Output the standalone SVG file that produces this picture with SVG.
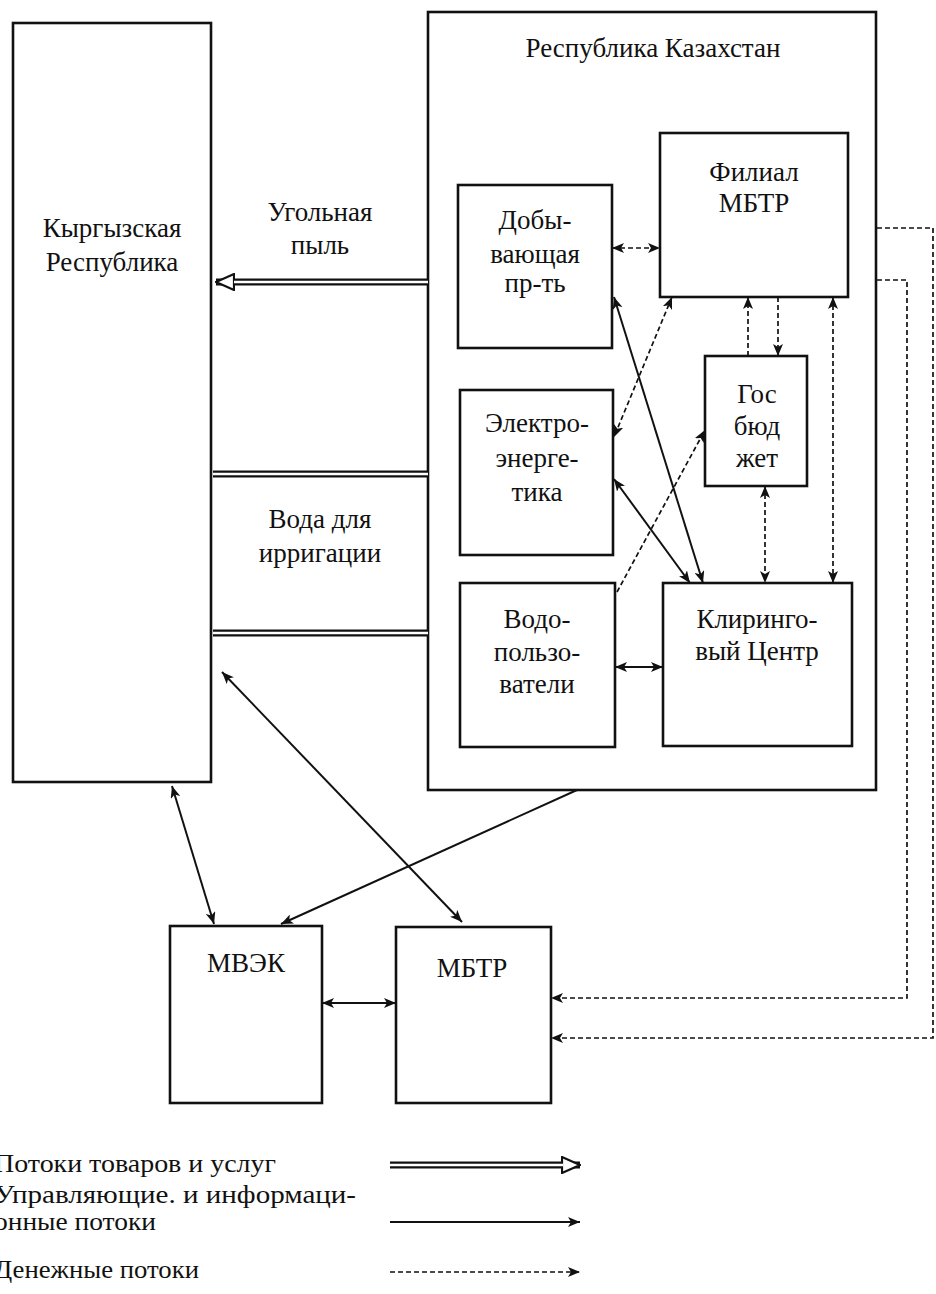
<svg xmlns="http://www.w3.org/2000/svg" width="936" height="1294" viewBox="0 0 936 1294">
<style>
.box{fill:none;stroke:#111;stroke-width:2.6}
.t{font-family:'Liberation Serif','DejaVu Serif','Times New Roman',serif;font-size:27px;fill:#111;text-anchor:middle}
.lt{font-family:'Liberation Serif','DejaVu Serif','Times New Roman',serif;font-size:26px;fill:#111}
.solid{stroke:#111;stroke-width:2;fill:none}
.dash{stroke:#111;stroke-width:1.7;fill:none;stroke-dasharray:5 3}
.gout{stroke:#111;stroke-width:7;fill:none}
.gin{stroke:#fff;stroke-width:2.4;fill:none}
</style>
<defs>
<marker id="ah" viewBox="0 0 12 10" refX="12" refY="5" markerWidth="12" markerHeight="10" markerUnits="userSpaceOnUse" orient="auto-start-reverse"><path d="M0,0 L12,5 L0,10 L3,5 Z" fill="#111"/></marker>
<marker id="gh" viewBox="0 0 20 18" refX="19" refY="9" markerWidth="20" markerHeight="18" markerUnits="userSpaceOnUse" orient="auto"><path d="M1,1 L19,9 L1,17 Z" fill="#fff" stroke="#111" stroke-width="2.2"/></marker>
</defs>
<rect width="936" height="1294" fill="#fff"/>

<g id="kyrgyz"><rect class="box" x="13" y="23" width="198" height="759"/>
<text class="t" x="112" y="237">Кыргызская</text><text class="t" x="112" y="271">Республика</text></g>

<g id="kazakhstan"><rect class="box" x="428" y="12" width="448" height="778"/>
<text class="t" x="653" y="57">Республика Казахстан</text></g>

<g id="filial"><rect class="box" x="660" y="133" width="188" height="164"/>
<text class="t" x="754" y="181">Филиал</text><text class="t" x="754" y="212">МБТР</text></g>

<g id="dobyv"><rect class="box" x="458" y="185" width="154" height="163"/>
<text class="t" x="535" y="229">Добы-</text><text class="t" x="535" y="263">вающая</text><text class="t" x="535" y="292">пр-ть</text></g>

<g id="electro"><rect class="box" x="460" y="390" width="153" height="165"/>
<text class="t" x="537" y="432">Электро-</text><text class="t" x="537" y="467">энерге-</text><text class="t" x="537" y="501">тика</text></g>

<g id="gosbudget"><rect class="box" x="705" y="356" width="102" height="130"/>
<text class="t" x="757" y="403">Гос</text><text class="t" x="757" y="435">бюд</text><text class="t" x="757" y="467">жет</text></g>

<g id="vodopolz"><rect class="box" x="460" y="583" width="155" height="164"/>
<text class="t" x="537" y="628">Водо-</text><text class="t" x="537" y="661">пользо-</text><text class="t" x="537" y="693">ватели</text></g>

<g id="kliring"><rect class="box" x="663" y="583" width="189" height="163"/>
<text class="t" x="757" y="628">Клиринго-</text><text class="t" x="757" y="660">вый Центр</text></g>

<g id="mvek"><rect class="box" x="170" y="926" width="152" height="177"/>
<text class="t" x="246" y="972">МВЭК</text></g>

<g id="mbtr"><rect class="box" x="396" y="927" width="155" height="176"/>
<text class="t" x="472" y="977">МБТР</text></g>

<g id="labels">
<text class="t" x="320" y="221">Угольная</text><text class="t" x="320" y="254">пыль</text>
<text class="t" x="320" y="528">Вода для</text><text class="t" x="320" y="562">ирригации</text>
</g>

<g id="connectors">
<path class="gout" d="M428,282 H216" marker-end="url(#gh)"/>
<path class="gin" d="M428,282 H234"/>
<path class="gout" d="M213,474 H428"/><path class="gin" d="M213,474 H428"/>
<path class="gout" d="M213,633 H428"/><path class="gin" d="M213,633 H428"/>

<path class="solid" d="M222,672 L462,922" marker-start="url(#ah)" marker-end="url(#ah)"/>
<path class="solid" d="M172,786 L214,924" marker-start="url(#ah)" marker-end="url(#ah)"/>
<path class="solid" d="M577,790 L281,924" marker-end="url(#ah)"/>
<path class="solid" d="M322,1003 H396" marker-start="url(#ah)" marker-end="url(#ah)"/>

<path class="dash" d="M877,228 H933 V1038 H551" marker-end="url(#ah)"/>
<path class="dash" d="M877,280 H907 V998 H551" marker-end="url(#ah)"/>

<path class="dash" d="M612,248 H660" marker-start="url(#ah)" marker-end="url(#ah)"/>
<path class="solid" d="M614,297 L703,583" marker-start="url(#ah)" marker-end="url(#ah)"/>
<path class="dash" d="M672,297 L614,437" marker-start="url(#ah)" marker-end="url(#ah)"/>
<path class="solid" d="M614,479 L690,583" marker-start="url(#ah)" marker-end="url(#ah)"/>
<path class="dash" d="M617,592 L705,430" marker-end="url(#ah)"/>
<path class="dash" d="M748,356 V297" marker-end="url(#ah)"/>
<path class="dash" d="M778,297 V356" marker-end="url(#ah)"/>
<path class="dash" d="M833,297 V583" marker-start="url(#ah)" marker-end="url(#ah)"/>
<path class="dash" d="M765,486 V583" marker-start="url(#ah)" marker-end="url(#ah)"/>
<path class="solid" d="M615,667 H663" marker-start="url(#ah)" marker-end="url(#ah)"/>
</g>

<g id="legend">
<text class="lt" x="-6" y="1172" textLength="282" lengthAdjust="spacingAndGlyphs">Потоки товаров и услуг</text>
<text class="lt" x="-6" y="1203" textLength="362" lengthAdjust="spacingAndGlyphs">Управляющие. и  информаци-</text>
<text class="lt" x="-6" y="1230" textLength="162" lengthAdjust="spacingAndGlyphs">онные потоки</text>
<text class="lt" x="-6" y="1278" textLength="205" lengthAdjust="spacingAndGlyphs">Денежные потоки</text>
<path class="gout" d="M390,1165 H580" marker-end="url(#gh)"/>
<path class="gin" d="M390,1165 H563"/>
<path class="solid" d="M390,1222 H580" marker-end="url(#ah)"/>
<path class="dash" d="M390,1272 H580" marker-end="url(#ah)"/>
</g>
</svg>
